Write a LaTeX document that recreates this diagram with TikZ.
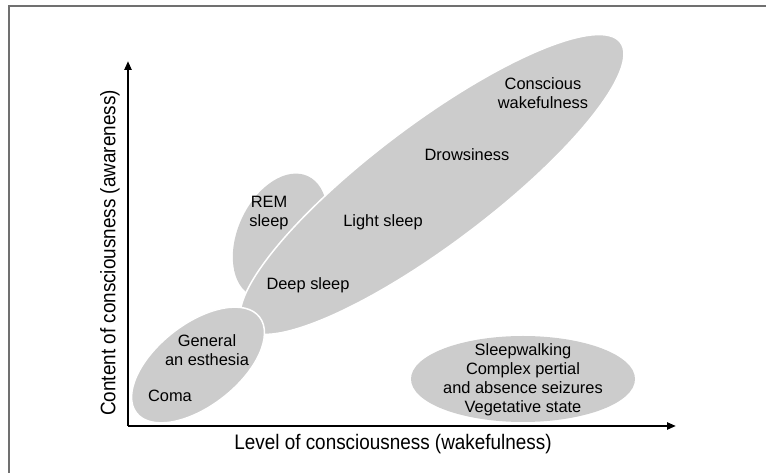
\documentclass[tikz,border=0pt]{standalone}
\usepackage{fontspec}
\setmainfont{Liberation Sans}
\newfontfamily\axisfont[FakeStretch=0.9]{Liberation Sans}
\usetikzlibrary{arrows.meta}
\definecolor{zonegray}{HTML}{CCCCCC}
\definecolor{framegray}{HTML}{707070}
\tikzset{
  zone/.style={fill=zonegray,draw=white,line width=1.5pt},
  state/.style={align=center,font=\fontsize{16.4}{19}\selectfont},
  axislabel/.style={font=\axisfont\fontsize{21}{24}\selectfont},
  axis/.style={line width=2.2pt,-{Triangle[length=9pt,width=7pt]}}
}
\begin{document}
\begin{tikzpicture}[x=1pt,y=1pt]
\useasboundingbox (0,0) rectangle (766,473);
\draw[framegray,line width=2pt] (9,0) -- (9,467) -- (766,467);

\fill[zonegray] (280,237) ellipse[x radius=66,y radius=42,rotate=65];
\draw[zone] (432,288.5) ellipse[x radius=236,y radius=60,rotate=37];
\draw[zone] (198,108) ellipse[x radius=78,y radius=41,rotate=38];
\fill[zonegray] (523,94) ellipse[x radius=112,y radius=43];

\coordinate (origin) at (128,47);
\coordinate (ytip) at (128,412);
\coordinate (xtip) at (676,47);
\draw[axis] (origin) -- (ytip);
\draw[axis] (origin) -- (xtip);

\node[state] (conscious) at (543,380) {Conscious\\wakefulness};
\node[state] (drowsy) at (467,318) {Drowsiness};
\node[state] (light) at (383,251) {Light sleep};
\node[state] (rem) at (269,260) {REM\\sleep};
\node[state] (deep) at (308,188) {Deep sleep};
\node[state] (anesth) at (207,123) {General\\an esthesia};
\node[state] (coma) at (170,77) {Coma};
\node[state] (other) at (523,93) {Sleepwalking\\Complex pertial\\and absence seizures\\Vegetative state};

\node[axislabel] (xlabel) at (393,29) {Level of consciousness (wakefulness)};
\node[axislabel,rotate=90] (ylabel) at (110,220) {Content of consciousness (awareness)};
\end{tikzpicture}
\end{document}
